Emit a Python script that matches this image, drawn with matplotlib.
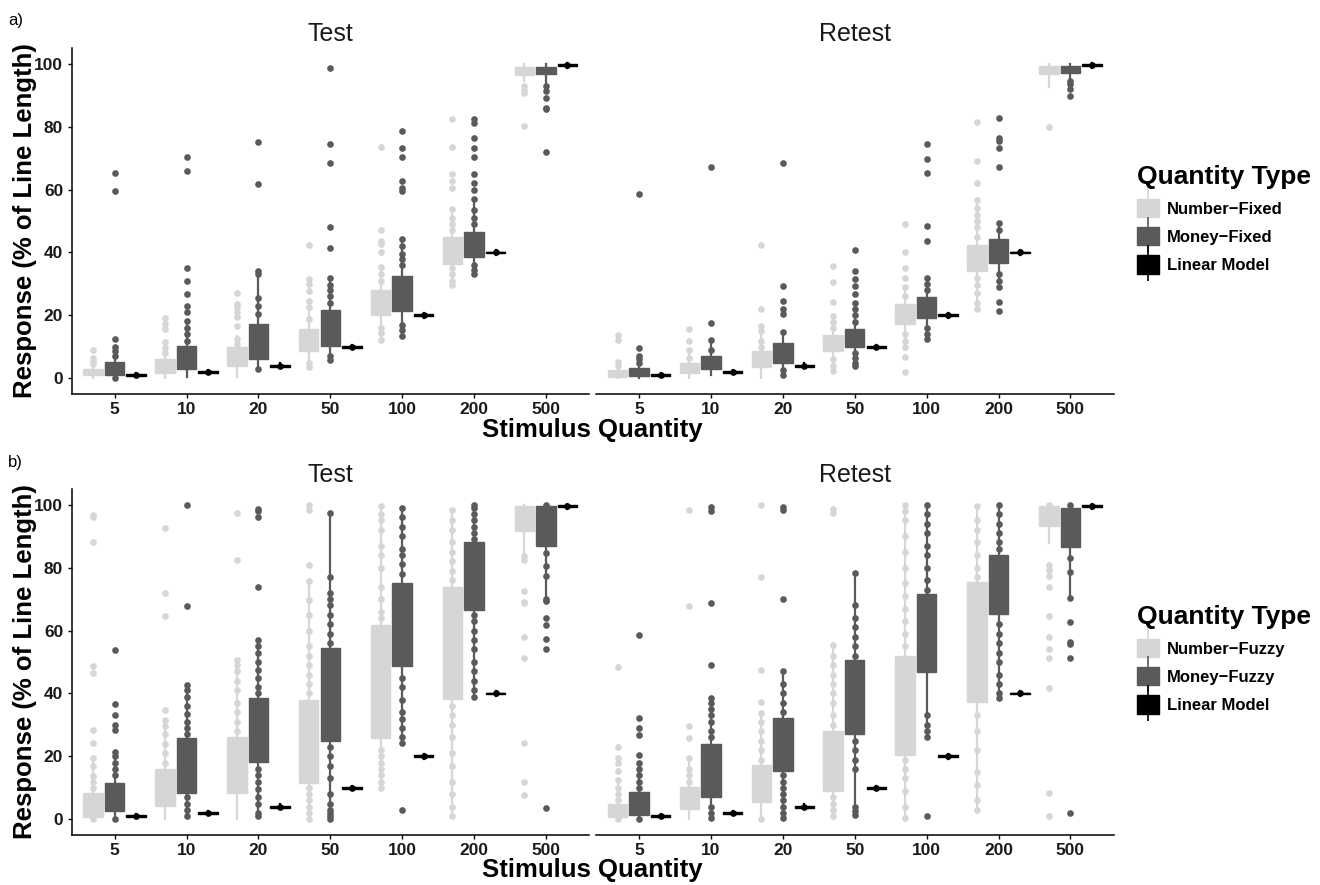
import matplotlib
matplotlib.use("Agg")
import matplotlib.pyplot as plt
from matplotlib.patches import Patch
from matplotlib.lines import Line2D
from matplotlib.legend_handler import HandlerTuple

plt.rcParams['font.family'] = ['Liberation Sans', 'DejaVu Sans']

quantities = ['5', '10', '20', '50', '100', '200', '500']
linear_model = [1, 2, 4, 10, 20, 40, 99.5]

# box stats per quantity: [whisker low, q1, median, q3, whisker high]; pts = dots drawn on top
# a) fixed, test
test_fixed_number_box = [[0, 1, 2, 3, 6], [0, 1.6, 3.5, 6, 11], [0.5, 4, 7, 9.8, 13.5], [3.5, 8.6, 12, 15.7, 22],
                         [12, 20, 24, 28, 35], [29.5, 36.3, 40, 44.8, 54], [94.5, 96.4, 97.5, 98.9, 100]]
test_fixed_number_pts = [[4.5, 5.5, 6.5, 9], [8, 9.5, 11.5, 15.7, 17.2, 19.2], [11, 12.5, 16.7, 19.4, 21, 22.5, 23.6, 27],
                         [3.5, 5, 19, 22.5, 24.7, 27.8, 30, 31.5, 42.3],
                         [12.2, 14.5, 16, 31, 33, 35.5, 40, 42.6, 43.7, 47.1, 73.6],
                         [29.5, 31, 33, 35, 47, 49, 51, 53.8, 60.6, 62.8, 64.9, 73.6, 82.3], [92.9, 91.5, 90.8, 80.1]]
test_fixed_money_box = [[0, 1.1, 3, 5.3, 9.8], [0.5, 3, 6, 10.4, 18.3], [2.8, 6.1, 11, 17.2, 34.2], [5.8, 10.4, 15, 21.7, 32],
                        [13, 21.5, 27, 32.6, 44.2], [33, 38.4, 42, 46.6, 57], [94, 96.8, 97.5, 98.9, 100]]
test_fixed_money_pts = [[0, 7, 8.8, 9.8, 12.4, 59.6, 65.4], [12, 14, 16, 18.3, 21, 23, 26.8, 31, 35.2, 66, 70.4],
                        [3, 20.4, 23, 25.5, 33, 34.2, 61.9, 75.2], [5.8, 7, 24, 26, 28, 29.5, 32, 41.4, 48.1, 68.3, 74.6, 98.7],
                        [13.5, 15.5, 17, 36, 38, 39.5, 42, 44.2, 59.6, 60.6, 62.8, 70.4, 73.3, 78.6],
                        [33, 34.5, 36, 49, 51, 53.5, 57, 60, 62.2, 64.9, 70.2, 73.3, 76.5, 81.3, 82.3],
                        [92.9, 91.3, 89.2, 86, 85.5, 72]]
# a) fixed, retest
retest_fixed_number_box = [[0, 0.5, 1.5, 2.6, 5.3], [0, 1.6, 3, 4.8, 9], [0, 3.5, 6, 8.8, 15], [2.3, 8.8, 11, 13.9, 19.9],
                           [9, 17.2, 20.5, 23.6, 28], [22, 34, 38, 42.3, 56.6], [92.6, 96.8, 98, 99.2, 100]]
retest_fixed_number_pts = [[4, 5.3, 12.3, 13.7], [6.5, 9, 11.7, 15.7], [10, 12, 15, 16.7, 22, 42.4],
                           [2.3, 4, 6, 16, 18, 19.9, 24.1, 30.5, 35.8], [6.9, 1.9, 10, 12, 14, 26, 29, 32, 35.2, 40, 49.2],
                           [22, 24, 27, 29.5, 32, 45, 48, 50, 52, 54, 56.6, 62.2, 69.1, 81.5], [79.9]]
retest_fixed_money_box = [[0, 0.7, 2, 3.2, 7.2], [1, 3, 5, 7.2, 12.2], [1, 4.8, 8, 11.1, 14.6], [3.8, 9.8, 12.5, 15.7, 24],
                          [12.5, 19.2, 22, 25.9, 32], [31, 36.5, 40, 44.4, 49.5], [95.6, 97.1, 98, 99.2, 100]]
retest_fixed_money_pts = [[5, 6, 7.2, 9.5, 58.5], [9, 12.2, 17.6, 67.3], [1, 2.5, 14.6, 20.4, 22, 24.7, 29.4, 68.4],
                          [3.8, 5, 6.5, 8, 18, 20, 22, 24, 26.8, 29.4, 31.5, 34.2, 40.7],
                          [12.5, 14, 16, 28, 30, 32, 43.7, 48.4, 65.2, 69.6, 74.4],
                          [21.5, 24.1, 28.9, 31, 33, 47, 49.5, 67.3, 73.3, 75.4, 76.5, 82.9], [94.5, 93.4, 91.9, 89.7]]
# b) fuzzy, test
test_fuzzy_number_box = [[0, 0.8, 4, 8.5, 19.4], [0, 4.2, 9, 15.9, 31.6], [0, 8.5, 16, 26.1, 50.7], [0, 11.5, 22, 38, 75.6],
                         [10, 25.8, 44, 61.8, 99.7], [1, 38.2, 57, 74, 98.4], [82.5, 91.7, 97, 99.7, 100]]
test_fuzzy_number_pts = [[0, 9.9, 12, 13.6, 16.8, 19.4, 24.2, 28.4, 46.4, 48.6, 88.3, 96.1, 96.8],
                         [18, 21, 24, 27, 29.5, 31.6, 34.8, 64.5, 71.9, 92.6],
                         [28, 31, 34, 37, 41, 44, 47, 49, 50.7, 82.5, 97.4],
                         [0, 2, 4, 6, 8, 10, 40, 43, 46, 49, 52, 55, 60, 65, 69.8, 75.6, 80.9, 98.4, 100],
                         [10, 12, 14, 16, 18, 20, 22, 64, 66, 70, 74, 80, 84, 87, 92, 95, 97, 99.7],
                         [1, 4, 8, 12, 17, 21, 26, 30, 33, 36, 76, 79, 82, 85, 88, 92, 95, 98.4],
                         [83.6, 82.5, 72.6, 69.2, 68.7, 58.1, 51.4, 24.2, 11.7, 7.7]]
test_fuzzy_money_box = [[0, 2.7, 6, 11.5, 21.5], [1, 8.5, 15, 25.8, 42.7], [1, 18.1, 27, 38.7, 57], [0, 25, 38, 54.6, 97.3],
                        [24, 48.8, 62, 75.1, 98.9], [39, 66.6, 78, 88, 100], [69.5, 87, 96, 99.5, 100]]
test_fuzzy_money_pts = [[0, 14, 16, 18, 20, 21.5, 28.4, 30, 33.2, 36.6, 53.9],
                        [1, 3, 5, 7, 27, 29, 31, 33.5, 36, 39, 41, 42.7, 67.9, 100],
                        [1, 2, 5, 7, 9.5, 12, 14, 16, 40, 42, 45, 47.5, 50, 53, 55, 57, 73.7, 96.1, 97.9, 98.6],
                        [0, 1, 2, 3, 5, 8, 13, 17, 20, 23, 56, 59, 62, 65, 68, 70, 72, 77, 97.3],
                        [3, 24.2, 26, 29, 32, 34, 38, 42, 45, 78, 81, 84, 86, 90, 93, 96, 98.9],
                        [39, 41, 44, 47, 50, 54, 57, 60, 63, 65, 89, 91, 93, 95, 97, 99, 100],
                        [69.5, 70, 77.2, 80.4, 84.6, 63.9, 61.8, 57.3, 54.2, 3.7, 100]]
# b) fuzzy, retest
retest_fuzzy_number_box = [[0, 0.6, 2.5, 4.9, 11.4], [0, 3.2, 6, 10.2, 19.4], [0, 5.6, 10, 17.3, 33.7], [1, 9.1, 18, 28.1, 55.5],
                           [0.5, 20.5, 36, 52, 100], [3, 37.4, 55, 75.4, 99.5], [87.7, 93.1, 97, 99.7, 100]]
retest_fuzzy_number_pts = [[0, 6, 8, 10, 12.5, 15.2, 17.8, 19.4, 23.1, 48.4],
                           [12, 14, 16, 19.4, 25.8, 29.7, 67.7, 98.2],
                           [0, 19, 22, 25, 28, 31, 33.7, 37.4, 47.5, 76.9, 100],
                           [1, 3, 5, 7, 30, 33, 37, 40, 43, 46, 49, 52, 55.5, 97.3, 98.6],
                           [0.5, 4, 9, 13, 16, 19, 55, 59, 63, 67, 71, 75, 80, 85, 90, 95, 98, 100],
                           [3, 6, 11, 15, 22, 28, 33, 77, 80, 84, 88, 92, 95, 99.5],
                           [80.9, 79.3, 77.2, 74, 64.5, 58.1, 54.1, 51.2, 41.7, 8.3, 1, 100]]
retest_fuzzy_money_box = [[0, 1.4, 4, 8.8, 18], [0.5, 7, 15, 23.9, 38.7], [0.5, 15.5, 23, 32.1, 47], [1.5, 27.1, 40, 50.7, 78.3],
                          [26, 46.7, 58, 71.6, 100], [38.5, 65.3, 75, 83.9, 100], [70.5, 86.7, 94, 98.9, 100]]
retest_fuzzy_money_pts = [[0, 10, 12, 14, 16, 18, 20.5, 26.8, 29, 32.1, 58.6],
                          [0.5, 2, 4, 26, 28, 31, 33, 35, 37, 38.7, 49.1, 68.7, 97.9, 99.3],
                          [0.5, 2, 4, 6, 8, 10, 12, 14, 34, 37, 40, 43, 47, 70, 98.4, 99.3],
                          [1.5, 2.5, 4, 16, 19, 22, 25, 52, 55, 58, 61, 64, 68, 78.3],
                          [1, 26, 28, 30, 33, 73, 76, 80, 84, 87, 91, 94, 97, 100],
                          [38.5, 40, 43, 46, 50, 53, 56, 59, 62, 86, 88, 91, 94, 97, 100],
                          [70.5, 83, 78.5, 62.7, 56.3, 55.8, 51.2, 1.9, 100]]

light = '#d6d6d6'
dark = '#5a5a5a'
black = '#000000'


def to_stats(boxes, pts):
    out = []
    for b, p in zip(boxes, pts):
        out.append({'whislo': b[0], 'q1': b[1], 'med': b[2], 'q3': b[3], 'whishi': b[4], 'fliers': p})
    return out


def draw_group(ax, stats, offset, color):
    pos = [i + 1 + offset for i in range(len(stats))]
    ax.bxp(stats, positions=pos, widths=0.27, patch_artist=True, showcaps=False,
           boxprops=dict(facecolor=color, edgecolor=color, linewidth=1),
           medianprops=dict(color=color, linewidth=1),
           whiskerprops=dict(color=color, linewidth=1.6),
           flierprops=dict(marker='o', markerfacecolor=color, markeredgecolor='none', markersize=4.8),
           manage_ticks=False)


def draw_panel(ax, nbox, npts, mbox, mpts, title, show_y):
    draw_group(ax, to_stats(nbox, npts), -0.3, light)
    draw_group(ax, to_stats(mbox, mpts), 0.0, dark)
    lin = [{'whislo': v - 0.7, 'q1': v - 0.3, 'med': v, 'q3': v + 0.3, 'whishi': v + 0.7, 'fliers': [v]}
           for v in linear_model]
    draw_group(ax, lin, 0.3, black)
    ax.set_xlim(0.4, 7.6)
    ax.set_ylim(-5, 105)
    ax.set_xticks(range(1, 8))
    ax.set_xticklabels(quantities)
    ax.set_yticks([0, 20, 40, 60, 80, 100])
    for s in ['top', 'right']:
        ax.spines[s].set_visible(False)
    ax.spines['bottom'].set_linewidth(1.1)
    ax.spines['left'].set_linewidth(1.1)
    ax.tick_params(length=3, width=1, pad=3, labelsize=12.5)
    for lab in ax.get_xticklabels() + ax.get_yticklabels():
        lab.set_fontweight('bold')
        lab.set_color('#1a1a1a')
    if not show_y:
        ax.spines['left'].set_visible(False)
        ax.tick_params(axis='y', left=False, labelleft=False)
    ax.set_title(title, fontsize=18, pad=5, color='#1a1a1a')


W, H = 1320, 885
fig = plt.figure(figsize=(13.2, 8.85), dpi=100)

def add_ax(x0, y0, x1, y1):
    return fig.add_axes([x0 / W, 1 - y1 / H, (x1 - x0) / W, (y1 - y0) / H])

ax1 = add_ax(71.5, 48, 589, 394)
ax2 = add_ax(596, 48, 1113.5, 394)
ax3 = add_ax(71.5, 489, 589, 835)
ax4 = add_ax(596, 489, 1113.5, 835)

draw_panel(ax1, test_fixed_number_box, test_fixed_number_pts, test_fixed_money_box, test_fixed_money_pts, 'Test', True)
draw_panel(ax2, retest_fixed_number_box, retest_fixed_number_pts, retest_fixed_money_box, retest_fixed_money_pts, 'Retest', False)
draw_panel(ax3, test_fuzzy_number_box, test_fuzzy_number_pts, test_fuzzy_money_box, test_fuzzy_money_pts, 'Test', True)
draw_panel(ax4, retest_fuzzy_number_box, retest_fuzzy_number_pts, retest_fuzzy_money_box, retest_fuzzy_money_pts, 'Retest', False)

for yc, xl in [(221, 430), (662, 870)]:
    fig.text(25 / W, 1 - yc / H, 'Response (% of Line Length)', rotation=90, ha='center', va='center',
             fontsize=18.5, fontweight='bold')
    fig.text(592 / W, 1 - xl / H, 'Stimulus Quantity', ha='center', va='center', fontsize=18.5, fontweight='bold')

fig.text(8 / W, 1 - 21 / H, 'a)', ha='left', va='center', fontsize=12)
fig.text(8 / W, 1 - 462 / H, 'b)', ha='left', va='center', fontsize=12)


def legend_handles():
    hs = []
    for c in [light, dark, black]:
        hs.append((Patch(facecolor=c, edgecolor=c),
                   Line2D([], [], color=c, marker='|', markersize=26, markeredgewidth=1.2, linestyle='None')))
    return hs


for top, labels in [(150, ['Number\u2212Fixed', 'Money\u2212Fixed', 'Linear Model']),
                    (590, ['Number\u2212Fuzzy', 'Money\u2212Fuzzy', 'Linear Model'])]:
    leg = fig.legend(legend_handles(), labels, loc='upper left', bbox_to_anchor=(1122 / W, 1 - top / H),
                     frameon=False, title='Quantity Type', handler_map={tuple: HandlerTuple(ndivide=1)},
                     prop={'weight': 'bold', 'size': 12}, handlelength=1.3, handleheight=1.3,
                     handletextpad=0.5, labelspacing=0.6, alignment='left')
    leg.get_title().set_fontsize(19)
    leg.get_title().set_fontweight('bold')

fig.savefig('out.png', dpi=100)
